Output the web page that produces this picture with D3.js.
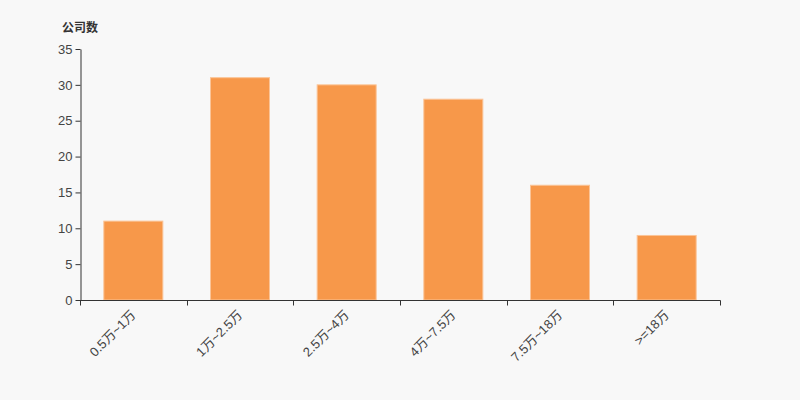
<!DOCTYPE html>
<html><head><meta charset="utf-8">
<script src="https://cdn.jsdelivr.net/npm/d3@7"></script>
<style>
html,body{margin:0;padding:0;background:#f8f8f8;}
svg{display:block;font-family:"Liberation Sans",Arial,"Noto Sans CJK SC",sans-serif;}
</style></head>
<body>
<svg id="c" width="800" height="400"></svg>
<script>
const categories = ["0.5万~1万","1万~2.5万","2.5万~4万","4万~7.5万","7.5万~18万",">=18万"];
const values = [11, 31, 30, 28, 16, 9];
const yTicks = [0,5,10,15,20,25,30,35];
const yTitle = "公司数";

(function(){
const svg = d3.select("#c");
const mLeft = 80, mRight = 720, mTop = 49, mBottom = 300;
svg.append("rect").attr("width",800).attr("height",400).attr("fill","#f8f8f8");

const x = d3.scaleBand().domain(categories).range([mLeft, mRight]).padding(0);
const y = d3.scaleLinear().domain([0,35]).range([mBottom, mTop]);
const barW = x.bandwidth()*0.5625;

svg.append("g").selectAll("rect").data(values).join("rect")
  .attr("x",(d,i)=>x(categories[i]) + (x.bandwidth()-barW)/2 + 0.5)
  .attr("y",d=>y(d))
  .attr("width",barW - 1)
  .attr("height",d=>mBottom - y(d))
  .attr("fill","#f7984a")
  .attr("stroke","#fbc497")
  .attr("stroke-width",1);

const yAxis = svg.append("g").attr("transform",`translate(${mLeft+0.5},0)`)
  .call(d3.axisLeft(y).tickValues(yTicks).tickSize(5).tickSizeOuter(0).tickPadding(3));
yAxis.select(".domain").attr("stroke","#333");
yAxis.selectAll(".tick line").attr("stroke","#333");
yAxis.selectAll(".tick text").attr("fill","#444").style("font-size","13px");

const xAxis = svg.append("g").attr("transform",`translate(0,${mBottom+0.5})`);
xAxis.append("line").attr("x1",mLeft).attr("x2",mRight+0.5).attr("stroke","#333");
const bounds = categories.map(c=>x(c)).concat([mRight]);
xAxis.selectAll("line.t").data(bounds).join("line").attr("class","t")
  .attr("x1",d=>Math.round(d)+0.5).attr("x2",d=>Math.round(d)+0.5)
  .attr("y1",0).attr("y2",5).attr("stroke","#333");
xAxis.selectAll("text").data(categories).join("text")
  .attr("transform",d=>`translate(${x(d)+x.bandwidth()/2},12) rotate(-45)`)
  .attr("text-anchor","end")
  .attr("dy","0.35em")
  .attr("fill","#444")
  .style("font-size","13px")
  .text(d=>d);

svg.append("text").attr("x",62).attr("y",32)
  .attr("fill","#333").style("font-size","12px").style("font-weight","bold")
  .text(yTitle);
})();
</script>
</body></html>
